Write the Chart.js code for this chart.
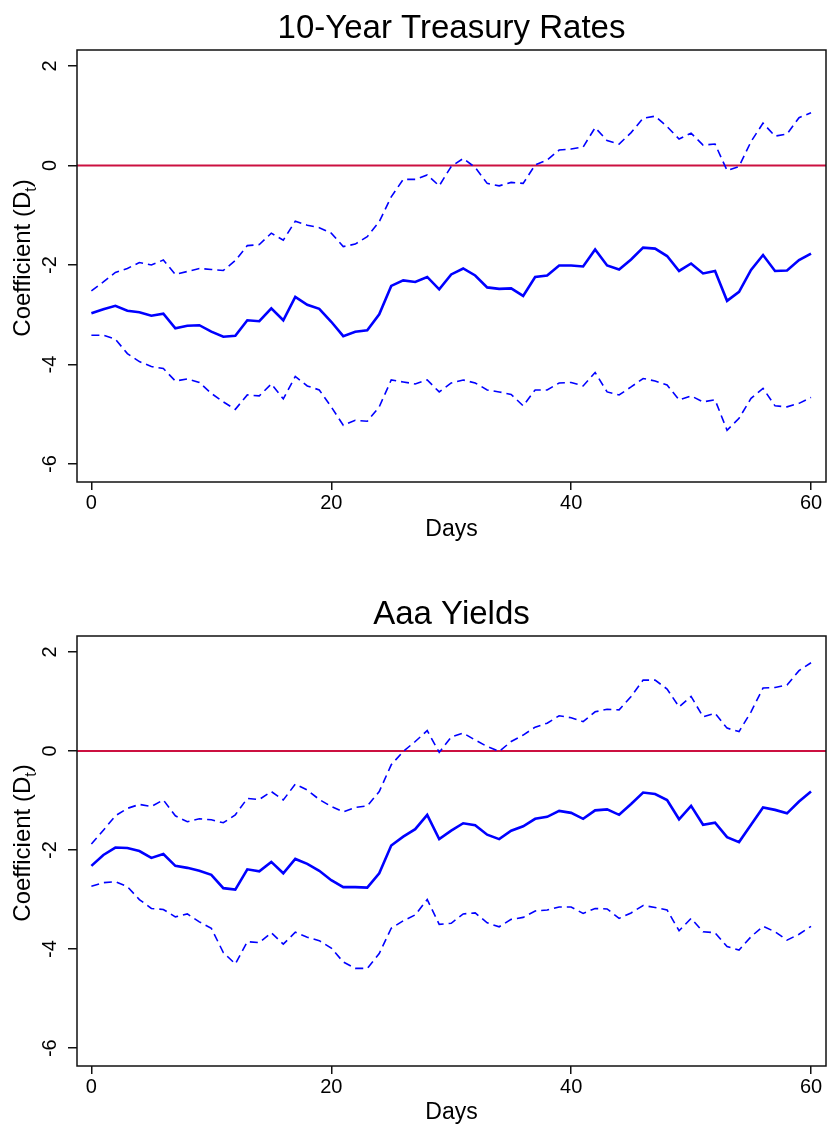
<!DOCTYPE html>
<html>
<head>
<meta charset="utf-8">
<script src="https://cdn.jsdelivr.net/npm/chart.js@4.4.1/dist/chart.umd.min.js"></script>
<style>
html, body { margin: 0; padding: 0; background: #ffffff; overflow: hidden; width: 828px; height: 1129px; }
canvas { position: absolute; left: 0; }
#c1 { top: 0px; }
#c2 { top: 586px; }
</style>
</head>
<body>
<canvas id="c1" width="828" height="564"></canvas>
<canvas id="c2" width="828" height="543"></canvas>
<script>
// ---------- data ----------
const days = [0,1,2,3,4,5,6,7,8,9,10,11,12,13,14,15,16,17,18,19,20,21,22,23,24,25,26,27,28,29,30,
  31,32,33,34,35,36,37,38,39,40,41,42,43,44,45,46,47,48,49,50,51,52,53,54,55,56,57,58,59,60];

const xTickValues = [0, 20, 40, 60];
const yTickValues = [2, 0, -2, -4, -6];
const zeroLine = 0;

const panelTitles = ["10-Year Treasury Rates", "Aaa Yields"];
const xAxisTitle = "Days";
const yAxisTitleMain = "Coefficient (D";
const yAxisTitleSub = "t";
const yAxisTitleEnd = ")";

const treasuryCoef = [-2.97,-2.89,-2.82,-2.92,-2.95,-3.02,-2.98,-3.27,-3.22,-3.21,-3.34,-3.44,-3.42,-3.11,-3.13,-2.87,-3.11,-2.64,-2.80,-2.88,
  -3.14,-3.43,-3.34,-3.31,-2.99,-2.42,-2.31,-2.34,-2.24,-2.49,-2.19,-2.07,-2.21,-2.45,-2.48,-2.47,-2.62,-2.24,-2.21,-2.01,
  -2.01,-2.03,-1.69,-2.01,-2.09,-1.89,-1.65,-1.67,-1.82,-2.12,-1.97,-2.17,-2.12,-2.72,-2.54,-2.10,-1.80,-2.12,-2.11,-1.90,-1.77];
const treasuryUpper = [-2.52,-2.34,-2.15,-2.07,-1.95,-2.00,-1.90,-2.19,-2.13,-2.07,-2.09,-2.11,-1.91,-1.61,-1.59,-1.36,-1.50,-1.12,-1.20,-1.25,
  -1.36,-1.63,-1.58,-1.43,-1.13,-0.63,-0.28,-0.28,-0.19,-0.41,-0.02,0.14,-0.04,-0.36,-0.41,-0.34,-0.36,0.01,0.11,0.31,
  0.33,0.37,0.76,0.50,0.43,0.66,0.95,0.99,0.78,0.53,0.65,0.41,0.43,-0.10,-0.02,0.48,0.85,0.59,0.63,0.96,1.06];
const treasuryLower = [-3.41,-3.41,-3.49,-3.78,-3.94,-4.04,-4.08,-4.33,-4.29,-4.36,-4.58,-4.75,-4.90,-4.61,-4.63,-4.39,-4.69,-4.24,-4.43,-4.51,
  -4.85,-5.22,-5.12,-5.14,-4.85,-4.31,-4.35,-4.39,-4.31,-4.55,-4.37,-4.31,-4.37,-4.51,-4.55,-4.60,-4.83,-4.51,-4.51,-4.37,
  -4.36,-4.43,-4.16,-4.55,-4.61,-4.45,-4.28,-4.33,-4.41,-4.71,-4.63,-4.75,-4.71,-5.32,-5.08,-4.68,-4.48,-4.83,-4.85,-4.78,-4.66];

const aaaCoef = [-2.32,-2.10,-1.95,-1.96,-2.02,-2.16,-2.08,-2.32,-2.36,-2.42,-2.50,-2.77,-2.80,-2.39,-2.43,-2.24,-2.47,-2.18,-2.28,-2.42,
  -2.61,-2.75,-2.75,-2.76,-2.47,-1.91,-1.73,-1.58,-1.29,-1.78,-1.61,-1.46,-1.50,-1.69,-1.78,-1.61,-1.52,-1.37,-1.33,-1.21,
  -1.25,-1.37,-1.20,-1.18,-1.29,-1.07,-0.84,-0.87,-0.99,-1.38,-1.11,-1.49,-1.45,-1.74,-1.84,-1.49,-1.14,-1.19,-1.26,-1.02,-0.82];
const aaaUpper = [-1.88,-1.60,-1.31,-1.16,-1.08,-1.12,-0.99,-1.31,-1.43,-1.37,-1.39,-1.45,-1.29,-0.96,-0.98,-0.82,-0.99,-0.67,-0.79,-0.98,
  -1.12,-1.23,-1.14,-1.11,-0.82,-0.28,-0.01,0.19,0.41,-0.03,0.28,0.36,0.22,0.09,-0.01,0.19,0.32,0.48,0.56,0.71,
  0.67,0.59,0.79,0.84,0.83,1.10,1.43,1.43,1.25,0.89,1.10,0.69,0.76,0.46,0.39,0.79,1.27,1.28,1.33,1.62,1.78];
const aaaLower = [-2.73,-2.66,-2.64,-2.74,-3.00,-3.18,-3.20,-3.35,-3.29,-3.45,-3.58,-4.07,-4.30,-3.85,-3.87,-3.67,-3.90,-3.66,-3.76,-3.83,
  -3.98,-4.26,-4.39,-4.39,-4.09,-3.58,-3.43,-3.31,-3.00,-3.50,-3.48,-3.29,-3.27,-3.47,-3.55,-3.40,-3.36,-3.23,-3.21,-3.15,
  -3.15,-3.28,-3.18,-3.19,-3.38,-3.27,-3.12,-3.16,-3.21,-3.63,-3.38,-3.65,-3.67,-3.95,-4.02,-3.75,-3.54,-3.65,-3.82,-3.70,-3.54];

// ---------- styling / layout ----------
const FONT = '"Liberation Sans", Arial, Helvetica, sans-serif';
const BLUE = '#0000ff';
const RED = '#cc1040';

const decor = {
  id: 'decor',
  beforeDatasetsDraw(chart) {
    const { ctx, chartArea: a, scales: { y } } = chart;
    const y0 = y.getPixelForValue(zeroLine);
    ctx.save();
    ctx.strokeStyle = RED;
    ctx.lineWidth = 2;
    ctx.beginPath();
    ctx.moveTo(a.left, y0);
    ctx.lineTo(a.right, y0);
    ctx.stroke();
    ctx.restore();
  },
  afterDraw(chart) {
    const { ctx, chartArea: a, scales: { y } } = chart;
    ctx.save();
    ctx.strokeStyle = '#111';
    ctx.lineWidth = 1.5;
    ctx.strokeRect(a.left, a.top, a.right - a.left, a.bottom - a.top);
    // rotated y tick labels
    ctx.fillStyle = '#000';
    ctx.font = '20px ' + FONT;
    ctx.textAlign = 'center';
    ctx.textBaseline = 'middle';
    for (const v of yTickValues) {
      const py = y.getPixelForValue(v);
      ctx.save();
      ctx.translate(50, py);
      ctx.rotate(-Math.PI / 2);
      ctx.fillText(String(v), 0, 0);
      ctx.restore();
    }
    // rotated y axis title with subscript
    const fs = 24, fsSub = 16;
    const mainFont = fs + 'px ' + FONT;
    const subFont = fsSub + 'px ' + FONT;
    ctx.font = mainFont;
    const w1 = ctx.measureText(yAxisTitleMain).width;
    const w3 = ctx.measureText(yAxisTitleEnd).width;
    ctx.font = subFont;
    const w2 = ctx.measureText(yAxisTitleSub).width;
    const total = w1 + w2 + w3;
    const cy = (a.top + a.bottom) / 2 - 8;
    ctx.save();
    ctx.translate(21, cy);
    ctx.rotate(-Math.PI / 2);
    ctx.textAlign = 'left';
    ctx.textBaseline = 'alphabetic';
    const base = 0.36 * fs;
    let x0 = -total / 2;
    ctx.font = mainFont;
    ctx.fillText(yAxisTitleMain, x0, base);
    ctx.font = subFont;
    ctx.fillText(yAxisTitleSub, x0 + w1, base + 0.28 * fs);
    ctx.font = mainFont;
    ctx.fillText(yAxisTitleEnd, x0 + w1 + w2, base);
    ctx.restore();
    ctx.restore();
  }
};

function makePanel(canvasId, title, coef, upper, lower, geo) {
  const pts = arr => arr.map((v, i) => ({ x: days[i], y: v }));
  const dashed = { borderColor: BLUE, borderWidth: 1.6, borderDash: [8, 5], pointRadius: 0, fill: false, tension: 0 };
  return new Chart(document.getElementById(canvasId), {
    type: 'line',
    data: {
      datasets: [
        Object.assign({ label: 'upper', data: pts(upper) }, dashed),
        Object.assign({ label: 'lower', data: pts(lower) }, dashed),
        { label: 'coef', data: pts(coef), borderColor: BLUE, borderWidth: 2.6, pointRadius: 0, fill: false, tension: 0 }
      ]
    },
    options: {
      responsive: false,
      animation: false,
      devicePixelRatio: 1,
      layout: { padding: { left: 0, right: 2, top: 0, bottom: 0 } },
      plugins: {
        legend: { display: false },
        tooltip: { enabled: false },
        title: {
          display: true,
          fullSize: false,
          text: title,
          color: '#000',
          font: { family: FONT, size: 33, weight: 'normal', lineHeight: 1.2 },
          padding: { top: 9.2, bottom: 1.2 }
        }
      },
      scales: {
        x: {
          type: 'linear',
          min: -1.2,
          max: 61.25,
          afterBuildTicks: s => { s.ticks = xTickValues.map(v => ({ value: v })); },
          afterFit: s => { s.height = geo.xAxisHeight; },
          ticks: { color: '#000', font: { family: FONT, size: 20 }, padding: 1, maxRotation: 0, autoSkip: false },
          grid: { drawOnChartArea: false, drawTicks: true, tickLength: 8, color: '#111', lineWidth: 1.5 },
          border: { display: false },
          title: { display: true, text: xAxisTitle, color: '#000', font: { family: FONT, size: 23 }, padding: { top: 0, bottom: geo.daysPad } }
        },
        y: {
          type: 'linear',
          min: -6.36,
          max: 2.32,
          afterBuildTicks: s => { s.ticks = yTickValues.map(v => ({ value: v })); },
          afterFit: s => { s.width = 77; },
          ticks: { display: false },
          grid: { drawOnChartArea: false, drawTicks: true, tickLength: 9, color: '#111', lineWidth: 1.5 },
          border: { display: false }
        }
      }
    },
    plugins: [decor]
  });
}

makePanel('c1', panelTitles[0], treasuryCoef, treasuryUpper, treasuryLower, { xAxisHeight: 82, daysPad: 20.2 });
makePanel('c2', panelTitles[1], aaaCoef, aaaUpper, aaaLower, { xAxisHeight: 63, daysPad: 2.2 });
</script>
</body>
</html>
